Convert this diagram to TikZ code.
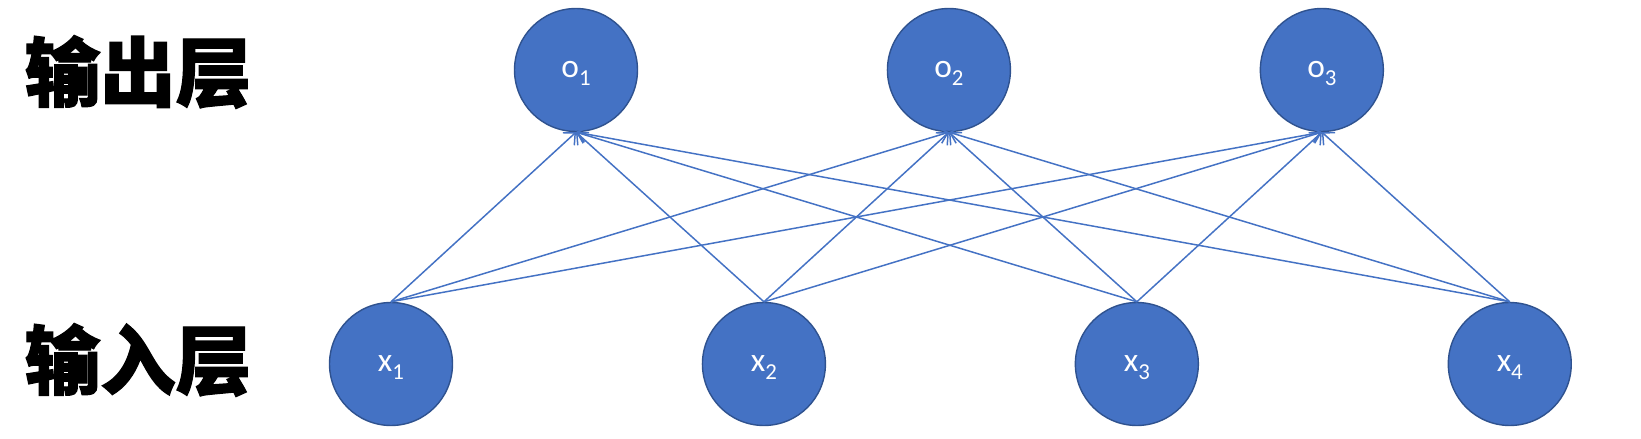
\documentclass[tikz,border=0pt]{standalone}
\usepackage{fontspec}
\setmainfont{Carlito}
\newfontfamily\cjk{Noto Sans CJK SC}[BoldFeatures={FakeBold=1.6}]
\usetikzlibrary{arrows.meta,positioning}
\definecolor{nblue}{HTML}{4472C4}
\definecolor{nedge}{HTML}{2F528F}
\newcommand{\lsub}[1]{\raisebox{-4.5pt}[0pt][0pt]{\fontsize{13}{13}\selectfont #1}}

\begin{document}
\begin{tikzpicture} [x=0.02cm,y=-0.02cm,node distance=7.46cm,line width=0.85pt]
  \tikzset{neuron/.style={circle,fill=nblue,draw=nedge,line width=0.8pt,
      minimum size=2.46cm,inner sep=0pt,text=white,
      font=\fontsize{19}{21}\selectfont},
    layer/.style={font=\cjk\bfseries\fontsize{43}{46}\selectfont},
    link/.style={draw=nblue,-{Straight Barb[length=1.8mm,width=3.4mm]}}}
  \useasboundingbox (0,0) rectangle (1641,439);

  \node[layer] (out) at (138,72) {输出层};
  \node[layer] (in) at (138,360) {输入层};

  \node[neuron] (x1) at (391,364) {x\lsub{1}};
  \node[neuron] (x2) [right of=x1] {x\lsub{2}};
  \node[neuron] (x3) [right of=x2] {x\lsub{3}};
  \node[neuron] (x4) [right of=x3] {x\lsub{4}};
  \node[neuron] (o1) at (576,70) {o\lsub{1}};
  \node[neuron] (o2) [right of=o1] {o\lsub{2}};
  \node[neuron] (o3) [right of=o2] {o\lsub{3}};

  \foreach \i in {1,...,4}
    \foreach \j in {1,2,3}
      \path[link] (x\i.north) -- (o\j.south);

\end{tikzpicture}
\end{document}
